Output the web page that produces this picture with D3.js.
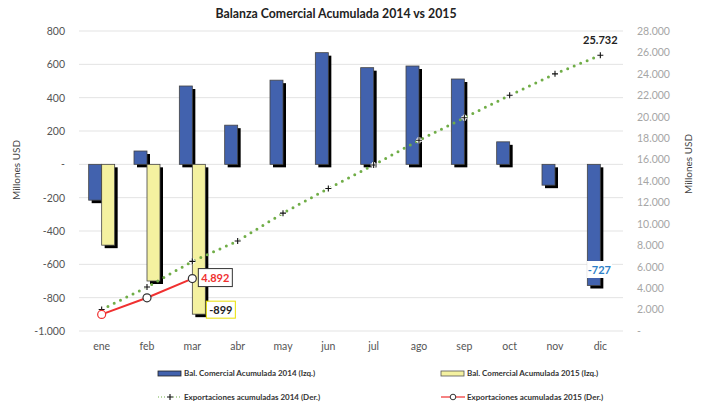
<!DOCTYPE html>
<html>
<head>
<meta charset="utf-8">
<script src="https://cdn.jsdelivr.net/npm/d3@7"></script>
<style>
  body { margin: 0; background: #fff; }
  svg { font-family: Lato, "Open Sans", sans-serif; }
</style>
</head>
<body>
<svg id="chart" width="709" height="406"></svg>
<script>
// datos (millones USD)
const meses = ["ene","feb","mar","abr","may","jun","jul","ago","sep","oct","nov","dic"];
const balanza2014 = [-215, 80, 470, 235, 505, 670, 580, 590, 512, 135, -125, -727];
const balanza2015 = [-485, -700, -899];
const export2014 = [2000, 4100, 6500, 8400, 11000, 13300, 15500, 17800, 19900, 22000, 24000, 25732];
const export2015 = [1550, 3100, 4892];
const ticksIzq = [800, 600, 400, 200, 0, -200, -400, -600, -800, -1000];
const ticksDer = d3.range(0, 28001, 2000);

const svg = d3.select("#chart");
const mLeft = 79, mRight = 623, mTop = 31, mBottom = 331;

const es = d3.formatLocale({decimal: ",", thousands: ".", grouping: [3], currency: ["", ""], minus: "-"});
const fmt = v => v === 0 ? "-" : es.format(",")(v);

const x = d3.scaleBand().domain(meses).range([mLeft, mRight]);
const yL = d3.scaleLinear().domain([-1000, 800]).range([mBottom, mTop]);
const yR = d3.scaleLinear().domain([0, 28000]).range([mBottom, mTop]);

// title
svg.append("text").attr("x", 336).attr("y", 18).attr("text-anchor", "middle")
  .attr("font-weight", "bold").attr("font-size", 12.3).attr("fill", "#222")
  .text("Balanza Comercial Acumulada 2014 vs 2015");

// grid
svg.append("g").selectAll("line").data(ticksIzq).join("line")
  .attr("x1", mLeft).attr("x2", mRight)
  .attr("y1", d => yL(d)).attr("y2", d => yL(d))
  .attr("stroke", "#e3e3e3").attr("stroke-width", 1);

// left axis
const axL = svg.append("g").attr("transform", `translate(${mLeft},0)`)
  .call(d3.axisLeft(yL).tickValues(ticksIzq).tickFormat(fmt).tickSize(0).tickPadding(14));
axL.select(".domain").remove();
axL.selectAll("text").attr("font-size", 10.5).attr("fill", "#555").attr("font-family", "Lato, sans-serif");

// right axis
const axR = svg.append("g").attr("transform", `translate(${mRight},0)`)
  .call(d3.axisRight(yR).tickValues(ticksDer).tickFormat(fmt).tickSize(0).tickPadding(14));
axR.select(".domain").remove();
axR.selectAll("text").attr("font-size", 10.5).attr("fill", "#a6a6a6").attr("font-family", "Lato, sans-serif");

// x axis
const axX = svg.append("g").attr("transform", `translate(0,${mBottom})`)
  .call(d3.axisBottom(x).tickSize(0).tickPadding(12));
axX.select(".domain").remove();
axX.selectAll("text").attr("font-size", 10.5).attr("fill", "#555").attr("font-family", "Lato, sans-serif");

// axis titles
svg.append("text").attr("transform", "translate(20,170) rotate(-90)")
  .attr("text-anchor", "middle").attr("font-size", 10).attr("fill", "#444").text("Millones USD");
svg.append("text").attr("transform", "translate(692,164) rotate(-90)")
  .attr("text-anchor", "middle").attr("font-size", 10).attr("fill", "#444").text("Millones USD");

// bars
const bw = 13;
function barras(vals, offset, color) {
  const g = svg.append("g");
  const d = vals.map((v, i) => ({m: meses[i], v}));
  const bx = e => x(e.m) + x.bandwidth() / 2 + offset;
  const by = e => Math.min(yL(e.v), yL(0));
  const bh = e => Math.abs(yL(e.v) - yL(0));
  g.selectAll(".sh").data(d).join("rect")
    .attr("x", e => bx(e) + 3).attr("y", e => by(e) + 3)
    .attr("width", bw).attr("height", bh).attr("fill", "#000");
  g.selectAll(".b").data(d).join("rect")
    .attr("x", bx).attr("y", by)
    .attr("width", bw).attr("height", bh)
    .attr("fill", color).attr("stroke", "#444").attr("stroke-width", 0.8);
}
barras(balanza2014, -bw, "#4262ae");
barras(balanza2015, 0, "#f4f1a0");

// line 2014
const cx = (v, i) => x(meses[i]) + x.bandwidth() / 2;
const line = d3.line().x((d, i) => cx(d, i)).y(d => yR(d));
svg.append("path").attr("d", line(export2014)).attr("fill", "none")
  .attr("stroke", "#70ad47").attr("stroke-width", 3)
  .attr("stroke-dasharray", "0,7").attr("stroke-linecap", "round");
function plus(g, px, py) {
  g.append("path").attr("d", `M${px-3},${py}H${px+3}M${px},${py-3}V${py+3}`)
    .attr("stroke", "#fff").attr("stroke-width", 3);
  g.append("path").attr("d", `M${px-3},${py}H${px+3}M${px},${py-3}V${py+3}`)
    .attr("stroke", "#111").attr("stroke-width", 1.1);
}
const gp = svg.append("g");
export2014.forEach((v, i) => plus(gp, cx(v, i), yR(v)));

// line 2015
svg.append("path").attr("d", line(export2015)).attr("fill", "none")
  .attr("stroke", "#f03030").attr("stroke-width", 2);
svg.append("g").selectAll("circle").data(export2015).join("circle")
  .attr("cx", (d, i) => cx(d, i)).attr("cy", d => yR(d)).attr("r", 4)
  .attr("fill", "#fff").attr("stroke", (d, i) => i === 0 ? "#f03030" : "#333").attr("stroke-width", 1.2);

// data labels
const last = export2014.length - 1;
svg.append("text").attr("x", cx(0, last)).attr("y", yR(export2014[last]) - 11)
  .attr("text-anchor", "middle").attr("font-weight", "bold").attr("font-size", 11).attr("fill", "#222")
  .text(es.format(",")(export2014[last]));

function etiqueta(px, py, w, h, txt, color, borde) {
  svg.append("rect").attr("x", px).attr("y", py).attr("width", w).attr("height", h)
    .attr("fill", "#fff").attr("stroke", borde).attr("stroke-width", 1);
  svg.append("text").attr("x", px + w / 2).attr("y", py + h / 2 + 4).attr("text-anchor", "middle")
    .attr("font-weight", "bold").attr("font-size", 11).attr("fill", color).text(txt);
}
const m3 = x("mar") + x.bandwidth() / 2;
etiqueta(m3 + 6, yR(export2015[2]) - 10, 34, 18, es.format(",")(export2015[2]), "#f03030", "#333");
etiqueta(m3 + 14, yL(balanza2015[2]) - 13, 29, 17, es.format(",")(balanza2015[2]), "#222", "#e8e000");
const dx = x("dic") + x.bandwidth() / 2;
etiqueta(dx - 13, yL(balanza2014[11]) - 24, 24, 16, es.format(",")(balanza2014[11]), "#2e80c8", "#fff");

// legend
const lg = svg.append("g").attr("font-size", 8).attr("font-weight", "bold").attr("fill", "#333");
lg.append("rect").attr("x", 158).attr("y", 371).attr("width", 23).attr("height", 5)
  .attr("fill", "#4262ae").attr("stroke", "#222").attr("stroke-width", 0.8);
lg.append("text").attr("x", 184).attr("y", 376).text("Bal. Comercial Acumulada 2014 (Izq.)");
lg.append("rect").attr("x", 441).attr("y", 371).attr("width", 23).attr("height", 5)
  .attr("fill", "#f4f1a0").attr("stroke", "#555").attr("stroke-width", 0.8);
lg.append("text").attr("x", 467).attr("y", 376).text("Bal. Comercial Acumulada 2015 (Izq.)");
lg.append("line").attr("x1", 158).attr("x2", 182).attr("y1", 397).attr("y2", 397)
  .attr("stroke", "#70ad47").attr("stroke-width", 1.2).attr("stroke-dasharray", "1,2");
plus(lg, 170, 397);
lg.append("text").attr("x", 184).attr("y", 400).text("Exportaciones acumuladas 2014 (Der.)");
lg.append("line").attr("x1", 441).attr("x2", 465).attr("y1", 397).attr("y2", 397)
  .attr("stroke", "#f03030").attr("stroke-width", 1.2);
lg.append("circle").attr("cx", 453).attr("cy", 397).attr("r", 2.8)
  .attr("fill", "#fff").attr("stroke", "#333").attr("stroke-width", 1);
lg.append("text").attr("x", 467).attr("y", 400).text("Exportaciones acumuladas 2015 (Der.)");
</script>
</body>
</html>
